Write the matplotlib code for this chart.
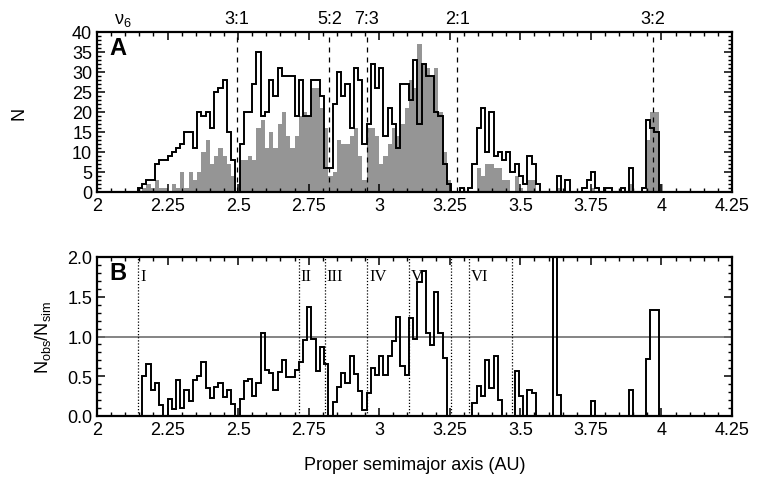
import numpy as np
import matplotlib
matplotlib.use('Agg')
import matplotlib.pyplot as plt
from matplotlib.ticker import MultipleLocator
import matplotlib.transforms as mtransforms

plt.rcParams['font.family'] = ['Liberation Sans', 'DejaVu Sans']
plt.rcParams['mathtext.fontset'] = 'custom'
plt.rcParams['mathtext.rm'] = 'Liberation Sans'
plt.rcParams['mathtext.it'] = 'Liberation Sans'

# Histogram bins (AU)
BIN_START = 2.13
BIN_WIDTH = 0.015

# Panel A: simulated belt (outline) and observed asteroids (grey), counts per bin
n_sim = [0, 1, 2, 3, 3, 7, 8, 8, 9, 10, 11, 12, 15, 15, 11, 20, 19, 20, 16, 25,
         26, 28, 15, 8, 0, 12, 20, 20, 27, 35, 19, 20, 28, 24, 31, 29, 29, 29, 19, 28,
         19, 19, 28, 28, 24, 6, 6, 22, 30, 24, 27, 16, 31, 28, 12, 17, 32, 26, 31, 14,
         21, 17, 11, 27, 27, 23, 33, 17, 32, 29, 29, 20, 19, 7, 2, 0, 0, 1, 0, 1,
         7, 16, 21, 10, 20, 9, 10, 8, 10, 5, 7, 4, 2, 9, 7, 2, 0, 0, 0, 0,
         4, 0, 3, 0, 0, 0, 1, 3, 5, 1, 0, 1, 1, 0, 0, 1, 0, 6, 0, 0,
         1, 18, 16, 15, 0]
n_obs = [0, 0, 1, 2, 1, 3, 1, 1, 0, 2, 1, 5, 1, 5, 3, 5, 10, 13, 7, 9,
         11, 9, 7, 4, 0, 8, 8, 9, 8, 16, 18, 11, 15, 11, 17, 20, 14, 11, 14, 19,
         20, 19, 26, 26, 21, 16, 4, 5, 13, 12, 12, 14, 16, 9, 3, 16, 16, 14, 7, 9,
         12, 16, 14, 17, 21, 28, 26, 37, 32, 31, 29, 31, 20, 10, 3, 0, 0, 0, 0, 0,
         0, 6, 4, 7, 7, 6, 6, 3, 3, 0, 4, 1, 0, 3, 3, 0, 0, 0, 0, 0,
         1, 0, 0, 0, 0, 0, 0, 0, 1, 0, 0, 0, 0, 0, 0, 0, 0, 2, 0, 0,
         0, 13, 20, 20, 2]

# Panel B: ratio N_obs / N_sim per bin
ratio = [0, 0, 0.5, 0.66, 0.33, 0.42, 0.14, 0, 0.22, 0.09, 0.45, 0.1, 0.33, 0.19, 0.45, 0.5, 0.68, 0.35, 0.23, 0.36,
         0.42, 0.24, 0.33, 0.15, 0, 0.22, 0.44, 0.47, 0.25, 0.42, 1.05, 0.58, 0.54, 0.33, 0.55, 0.71, 0.49, 0.49, 0.58, 0.68,
         0.95, 1.37, 0.97, 0.57, 0.87, 0.66, 0, 0.17, 0.36, 0.54, 0.42, 0.75, 0.53, 0.32, 0.08, 0.29, 0.61, 0.51, 0.75, 0.51,
         0.75, 0.94, 1.25, 0.63, 0.51, 1.23, 0.97, 1.68, 1.82, 1.04, 0.89, 1.56, 1.04, 0.73, 0, 0, 0, 0, 0, 0,
         0.16, 0.38, 0.25, 0.7, 0.35, 0.75, 0.2, 0, 0, 0, 0.57, 0.25, 0, 0.33, 0.29, 0, 0, 0, 0, 3.0,
         0.26, 0, 0, 0, 0, 0, 0, 0, 0.19, 0, 0, 0, 0, 0, 0, 0, 0, 0.33, 0, 0,
         0, 0.72, 1.33, 1.33, 0]

# Resonances (panel A) and zone boundaries (panel B)
res_names = ['3:1', '5:2', '7:3', '2:1', '3:2']
res_pos = [2.497, 2.823, 2.956, 3.276, 3.97]
zone_lines = [2.147, 2.716, 2.807, 2.958, 3.107, 3.255, 3.319, 3.47]
zone_names = ['I', 'II', 'III', 'IV', 'V', 'VI']
zone_label_x = [2.155, 2.722, 2.813, 2.964, 3.113, 3.325]

edges = BIN_START + BIN_WIDTH * np.arange(len(n_sim) + 1)

fig = plt.figure(figsize=(7.58, 4.81), dpi=100)
axA = fig.add_axes([97 / 758, (481 - 193) / 481, 635 / 758, 160 / 481])
axB = fig.add_axes([97 / 758, (481 - 417) / 481, 635 / 758, 159 / 481])

grey = '#959595'

# Panel A
axA.bar(edges[:-1], n_obs, width=BIN_WIDTH, align='edge', color=grey, linewidth=0, zorder=1)
axA.stairs(n_sim, edges, color='black', linewidth=1.4, zorder=3)
for x in res_pos:
    axA.axvline(x, color='black', linestyle=(0, (4, 4)), linewidth=0.9, zorder=2)
axA.set_ylim(0, 40)
axA.set_ylabel('N', fontsize=13, labelpad=32)
axA.yaxis.set_major_locator(MultipleLocator(5))
axA.yaxis.set_minor_locator(MultipleLocator(1))
axA.text(0.02, 0.9, 'A', transform=axA.transAxes, fontsize=17, fontweight='bold', va='center')

trans = mtransforms.blended_transform_factory(axA.transData, axA.transAxes)
axA.text(2.09, 1.075, r'ν$_6$', transform=trans, ha='center', va='center', fontsize=13)
for name, x in zip(res_names, res_pos):
    axA.text(x, 1.085, name, transform=trans, ha='center', va='center', fontsize=13)

# Panel B
axB.stairs(ratio, edges, color='black', linewidth=1.4, zorder=3)
axB.axhline(1.0, color='#707070', linewidth=1.2, zorder=2)
for x in zone_lines:
    axB.axvline(x, color='black', linestyle=(0, (1, 1.5)), linewidth=0.9, zorder=2)
for name, x in zip(zone_names, zone_label_x):
    axB.text(x, 1.76, name, fontsize=12, family=['Liberation Serif', 'DejaVu Serif'],
             ha='left', va='center')
axB.set_ylim(0, 2.0)
axB.yaxis.set_major_locator(MultipleLocator(0.5))
axB.yaxis.set_minor_locator(MultipleLocator(0.1))
axB.yaxis.set_major_formatter(matplotlib.ticker.FormatStrFormatter('%.1f'))
axB.set_ylabel(r'N$_{\mathrm{obs}}$/N$_{\mathrm{sim}}$', fontsize=13, labelpad=10)
axB.set_xlabel('Proper semimajor axis (AU)', fontsize=13, labelpad=13)
axB.text(0.02, 0.9, 'B', transform=axB.transAxes, fontsize=17, fontweight='bold', va='center')

for ax in (axA, axB):
    ax.set_xlim(2, 4.25)
    ax.xaxis.set_major_locator(MultipleLocator(0.25))
    ax.xaxis.set_minor_locator(MultipleLocator(0.05))
    ax.xaxis.set_major_formatter(matplotlib.ticker.FuncFormatter(lambda v, p: f'{v:g}'))
    ax.tick_params(which='both', direction='in', top=True, right=True, labelsize=13)
    ax.tick_params(which='major', length=6, width=1.1)
    ax.tick_params(which='minor', length=3, width=1.0)
    for s in ax.spines.values():
        s.set_linewidth(1.6)

fig.savefig('out.png', dpi=100)
